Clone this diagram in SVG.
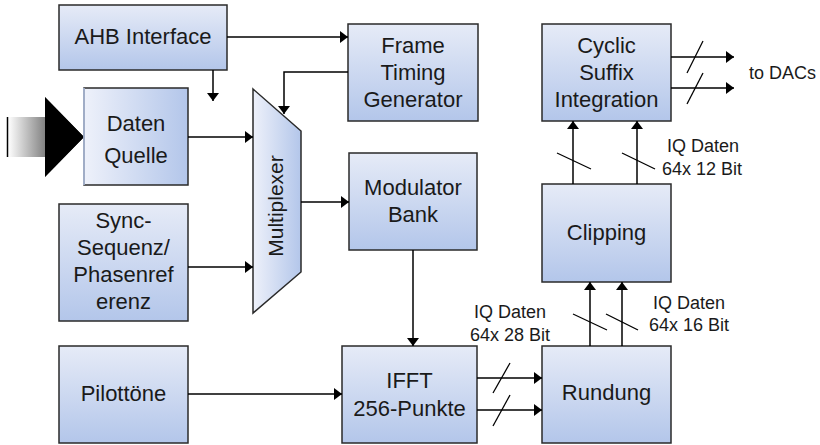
<svg xmlns="http://www.w3.org/2000/svg" width="820" height="445" viewBox="0 0 820 445">
  <defs>
    <linearGradient id="gradV" x1="0" y1="0" x2="0" y2="1">
      <stop offset="0" stop-color="#e6ebf7"/>
      <stop offset="1" stop-color="#b3c6ea"/>
    </linearGradient>
    <linearGradient id="gradH" x1="0" y1="0" x2="1" y2="0">
      <stop offset="0" stop-color="#eef1fa"/>
      <stop offset="1" stop-color="#b3c6ea"/>
    </linearGradient>
    <linearGradient id="gradArrow" x1="0" y1="0" x2="1" y2="0">
      <stop offset="0" stop-color="#ffffff"/>
      <stop offset="1" stop-color="#000000"/>
    </linearGradient>
    <marker id="head" markerUnits="userSpaceOnUse" markerWidth="8" markerHeight="12" refX="8" refY="6" orient="auto">
      <path d="M0,0 L8,6 L0,12 Z" fill="#000"/>
    </marker>
    <style>
      .box { fill: url(#gradV); stroke: #2a2a2a; stroke-width: 1.5; }
      .boxh { fill: url(#gradH); stroke: #2a2a2a; stroke-width: 1.5; }
      .lbl { font-family: "Liberation Sans", Arial, sans-serif; font-size: 22px; fill: #1a1a1a; text-anchor: middle; }
      .ann { font-family: "Liberation Sans", Arial, sans-serif; font-size: 18px; fill: #1a1a1a; text-anchor: middle; }
      .wire { fill: none; stroke: #000; stroke-width: 1.5; }
      .arrow { fill: none; stroke: #000; stroke-width: 1.5; marker-end: url(#head); }
      .bus { stroke: #000; stroke-width: 1.3; }
    </style>
  </defs>

  <!-- external data input arrow -->
  <g id="input-arrow">
    <path d="M8,117 H45 V97 L84,137 L45,177 V157 H8 Z" fill="url(#gradArrow)"/>
    <path d="M45,97 L84,137 L45,177 Z" fill="#000"/>
    <line x1="7.5" y1="117" x2="7.5" y2="157" stroke="#000" stroke-width="1.5"/>
  </g>

  <g id="ahb-interface">
    <rect class="box" x="59" y="5" width="168" height="65"/>
    <text class="lbl" x="143" y="44">AHB Interface</text>
  </g>

  <g id="frame-timing-generator">
    <rect class="box" x="348" y="24" width="130" height="97"/>
    <text class="lbl" x="413" y="53">Frame</text>
    <text class="lbl" x="413" y="80">Timing</text>
    <text class="lbl" x="413" y="107">Generator</text>
  </g>

  <g id="daten-quelle">
    <rect class="boxh" x="84" y="88" width="104" height="97"/>
    <line x1="84" y1="88" x2="84" y2="185" stroke="#b9c9ea" stroke-width="1.5"/>
    <text class="lbl" x="136" y="131">Daten</text>
    <text class="lbl" x="136" y="163">Quelle</text>
  </g>

  <g id="sync-sequenz">
    <rect class="box" x="59" y="204" width="129" height="117"/>
    <text class="lbl" x="123.5" y="228">Sync-</text>
    <text class="lbl" x="123.5" y="255">Sequenz/</text>
    <text class="lbl" x="123.5" y="282">Phasenref</text>
    <text class="lbl" x="123.5" y="309">erenz</text>
  </g>

  <g id="multiplexer">
    <path class="boxh" d="M253,89 L301,131 V272 L253,313 Z"/>
    <text class="lbl" style="font-size:21px" transform="translate(283,206) rotate(-90)">Multiplexer</text>
  </g>

  <g id="modulator-bank">
    <rect class="box" x="349" y="153" width="128" height="97"/>
    <text class="lbl" x="413" y="195">Modulator</text>
    <text class="lbl" x="413" y="222">Bank</text>
  </g>

  <g id="pilottoene">
    <rect class="box" x="59" y="346" width="129" height="97"/>
    <text class="lbl" x="123.5" y="401">Pilottöne</text>
  </g>

  <g id="ifft">
    <rect class="box" x="342" y="346" width="135" height="97"/>
    <text class="lbl" x="409.5" y="388">IFFT</text>
    <text class="lbl" x="409.5" y="416">256-Punkte</text>
  </g>

  <g id="rundung">
    <rect class="box" x="542" y="346" width="129" height="97"/>
    <text class="lbl" x="606.5" y="400">Rundung</text>
  </g>

  <g id="clipping">
    <rect class="box" x="542" y="184" width="129" height="98"/>
    <text class="lbl" x="606.5" y="240">Clipping</text>
  </g>

  <g id="cyclic-suffix-integration">
    <rect class="box" x="542" y="24" width="129" height="97"/>
    <text class="lbl" x="606.5" y="53">Cyclic</text>
    <text class="lbl" x="606.5" y="80">Suffix</text>
    <text class="lbl" x="606.5" y="107">Integration</text>
  </g>

  <g id="connectors">
    <line class="arrow" x1="227" y1="37" x2="348" y2="37"/>
    <line class="arrow" x1="213" y1="70" x2="213" y2="101"/>
    <path class="arrow" d="M348,72 H284 V114"/>
    <line class="arrow" x1="188" y1="137" x2="253" y2="137"/>
    <line class="arrow" x1="188" y1="267" x2="253" y2="267"/>
    <line class="arrow" x1="301" y1="202" x2="349" y2="202"/>
    <line class="arrow" x1="413" y1="250" x2="413" y2="346"/>
    <line class="arrow" x1="188" y1="394" x2="342" y2="394"/>
    <line class="arrow" x1="477" y1="378" x2="542" y2="378"/>
    <line class="arrow" x1="477" y1="410" x2="542" y2="410"/>
    <line class="arrow" x1="590" y1="346" x2="590" y2="282"/>
    <line class="arrow" x1="622" y1="346" x2="622" y2="282"/>
    <line class="arrow" x1="573" y1="184" x2="573" y2="121"/>
    <line class="arrow" x1="637" y1="184" x2="637" y2="121"/>
    <line class="arrow" x1="671" y1="57" x2="734" y2="57"/>
    <line class="arrow" x1="671" y1="88" x2="734" y2="88"/>
    <!-- bus width ticks -->
    <line class="bus" x1="493" y1="393" x2="510" y2="363"/>
    <line class="bus" x1="493" y1="426" x2="510" y2="395"/>
    <line class="bus" x1="573" y1="314" x2="607" y2="330"/>
    <line class="bus" x1="606" y1="314" x2="638" y2="330"/>
    <line class="bus" x1="557" y1="153" x2="591" y2="169"/>
    <line class="bus" x1="622" y1="153" x2="655" y2="169"/>
    <line class="bus" x1="687" y1="73" x2="703" y2="41"/>
    <line class="bus" x1="687" y1="104" x2="703" y2="73"/>
  </g>

  <g id="annotations">
    <text class="ann" x="510" y="318">IQ Daten</text>
    <text class="ann" x="510" y="341">64x 28 Bit</text>
    <text class="ann" x="689" y="309">IQ Daten</text>
    <text class="ann" x="689" y="331">64x 16 Bit</text>
    <text class="ann" x="703" y="152">IQ Daten</text>
    <text class="ann" x="702" y="175">64x 12 Bit</text>
    <text class="ann" x="749" y="79" style="text-anchor:start">to DACs</text>
  </g>
</svg>
